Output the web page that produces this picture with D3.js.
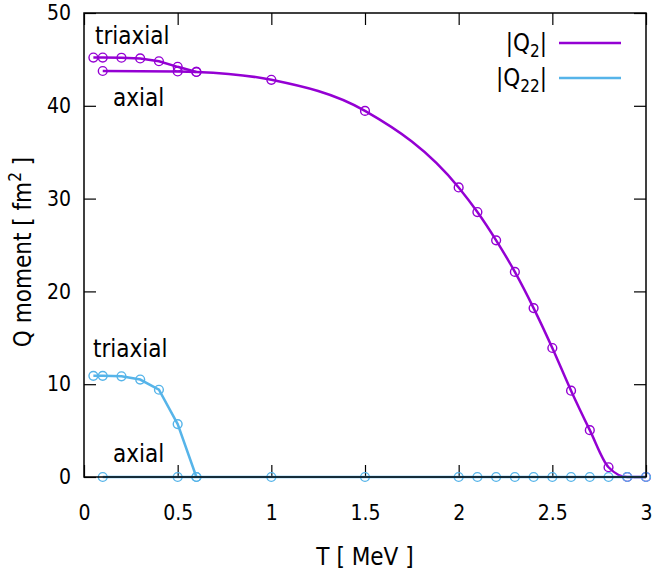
<!DOCTYPE html>
<html>
<head>
<meta charset="utf-8">
<script src="https://cdn.jsdelivr.net/npm/d3@7"></script>
<style>
  body { margin: 0; background: #fff; }
  svg text { font-family: "DejaVu Sans", sans-serif; font-stretch: condensed; fill: #000; }
</style>
</head>
<body>
<div id="chart"></div>
<script>
// Q moments vs temperature

const xTicks = [0, 0.5, 1, 1.5, 2, 2.5, 3];
const yTicks = [0, 10, 20, 30, 40, 50];

// |Q2|, axial solution
const tAxialQ2 = [0.1, 0.5, 0.6, 1.0, 1.5, 2.0, 2.1, 2.2, 2.3, 2.4, 2.5, 2.6, 2.7, 2.8, 2.9, 3.0];
const axialQ2 = [43.75, 43.7, 43.65, 42.8, 39.45, 31.2, 28.55, 25.5, 22.1, 18.2, 13.9, 9.3, 5.05, 1.05, 0, 0];

// |Q2|, triaxial solution
const tTriax = [0.05, 0.1, 0.2, 0.3, 0.4, 0.5, 0.6];
const triaxQ2 = [45.2, 45.2, 45.18, 45.1, 44.8, 44.2, 43.65];

// |Q22|
const triaxQ22 = [10.9, 10.9, 10.85, 10.5, 9.4, 5.7, 0];
const tAxialQ22 = [0.1, 0.5, 0.6, 1.0, 1.5, 2.0, 2.1, 2.2, 2.3, 2.4, 2.5, 2.6, 2.7, 2.8, 2.9, 3.0];
const axialQ22 = [0, 0, 0, 0, 0, 0, 0, 0, 0, 0, 0, 0, 0, 0, 0, 0];

const purple = '#9400d3';
const blue = '#56b4e9';

const width = 653, height = 573;
const margin = { top: 13, right: 7, bottom: 96, left: 84 };

const svg = d3.select('#chart')
  .append('svg')
  .attr('width', width)
  .attr('height', height);

const x = d3.scaleLinear()
  .domain([0, 3])
  .range([margin.left, width - margin.right]);

const y = d3.scaleLinear()
  .domain([0, 50])
  .range([height - margin.bottom, margin.top]);

// Axes (ticks point inward, mirrored on top/right)
svg.append('g')
  .attr('transform', `translate(0,${height - margin.bottom})`)
  .call(d3.axisBottom(x).tickValues(xTicks).tickSize(-12).tickPadding(28).tickFormat(d3.format('')));

svg.append('g')
  .attr('transform', `translate(${margin.left},0)`)
  .call(d3.axisLeft(y).tickValues(yTicks).tickSize(-12).tickPadding(13));

svg.append('g')
  .attr('transform', `translate(0,${margin.top})`)
  .call(d3.axisTop(x).tickValues(xTicks).tickSize(-12).tickFormat(''));

svg.append('g')
  .attr('transform', `translate(${width - margin.right},0)`)
  .call(d3.axisRight(y).tickValues(yTicks).tickSize(-12).tickFormat(''));

svg.selectAll('.domain').remove();
svg.selectAll('.tick line').attr('stroke', '#000').attr('stroke-width', 1.2);
svg.selectAll('.tick text').style('font-size', '21px').attr('fill', '#000');

// Axis labels
svg.append('text')
  .attr('x', (margin.left + width - margin.right) / 2)
  .attr('y', 565)
  .attr('text-anchor', 'middle')
  .style('font-size', '24px')
  .text('T [ MeV ]');

const ylab = svg.append('text')
  .attr('transform', `translate(31,${(margin.top + height - margin.bottom) / 2 + 7}) rotate(-90)`)
  .attr('text-anchor', 'middle')
  .style('font-size', '24px');
ylab.append('tspan').text('Q moment [ fm');
ylab.append('tspan').attr('dy', -10).style('font-size', '17px').text('2');
ylab.append('tspan').attr('dy', 10).text(' ]');

// Series
function drawSeries(ts, vals, color, curve) {
  const pts = ts.map((t, i) => [t, vals[i]]);
  const line = d3.line()
    .x(d => x(d[0]))
    .y(d => y(d[1]))
    .curve(curve);
  svg.append('path')
    .datum(pts)
    .attr('d', line)
    .attr('fill', 'none')
    .attr('stroke', color)
    .attr('stroke-width', 2.5);
  svg.append('g')
    .selectAll('circle')
    .data(pts)
    .enter().append('circle')
    .attr('cx', d => x(d[0]))
    .attr('cy', d => y(d[1]))
    .attr('r', 4.4)
    .attr('fill', 'none')
    .attr('stroke', color)
    .attr('stroke-width', 1.4);
}

drawSeries(tAxialQ2, axialQ2, purple, d3.curveMonotoneX);
drawSeries(tTriax, triaxQ2, purple, d3.curveLinear);
drawSeries(tTriax, triaxQ22, blue, d3.curveLinear);
drawSeries(tAxialQ22, axialQ22, blue, d3.curveLinear);

// Border
svg.append('rect')
  .attr('x', margin.left)
  .attr('y', margin.top)
  .attr('width', width - margin.left - margin.right)
  .attr('height', height - margin.top - margin.bottom)
  .attr('fill', 'none')
  .attr('stroke', '#000')
  .attr('stroke-width', 1.5);

// Annotations
const notes = [
  { text: 'triaxial', x: 95, y: 44 },
  { text: 'axial', x: 113, y: 106 },
  { text: 'triaxial', x: 93, y: 357 },
  { text: 'axial', x: 113, y: 462 }
];
svg.selectAll('.note')
  .data(notes)
  .enter().append('text')
  .attr('class', 'note')
  .attr('x', d => d.x)
  .attr('y', d => d.y)
  .style('font-size', '24px')
  .text(d => d.text);

// Legend
const legend = [
  { main: '|Q', sub: '2', color: purple, y: 43 },
  { main: '|Q', sub: '22', color: blue, y: 78 }
];
legend.forEach(l => {
  const t = svg.append('text')
    .attr('x', 547)
    .attr('y', l.y + 8)
    .attr('text-anchor', 'end')
    .style('font-size', '24px');
  t.append('tspan').text(l.main);
  t.append('tspan').attr('dy', 6).style('font-size', '17px').text(l.sub);
  t.append('tspan').attr('dy', -6).text('|');
  svg.append('line')
    .attr('x1', 559).attr('x2', 621)
    .attr('y1', l.y).attr('y2', l.y)
    .attr('stroke', l.color)
    .attr('stroke-width', 2.5);
});
</script>
</body>
</html>
